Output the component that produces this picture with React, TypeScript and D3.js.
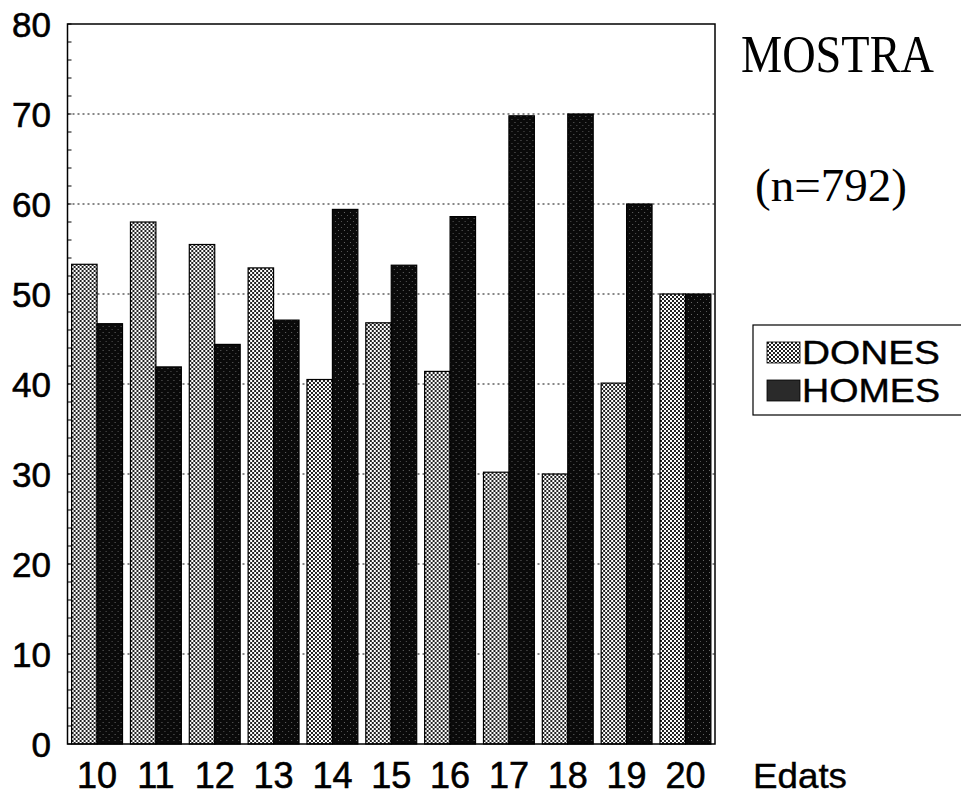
import { useEffect, useRef } from 'react';
import * as d3 from 'd3';

// ages (categories)
const ages = ['10', '11', '12', '13', '14', '15', '16', '17', '18', '19', '20'];
// percentages per series
const dones = [53.3, 58.0, 55.5, 52.9, 40.5, 46.8, 41.4, 30.2, 30.0, 40.1, 50.0];
const homes = [46.7, 41.9, 44.4, 47.1, 59.4, 53.2, 58.6, 69.8, 70.0, 60.0, 50.0];
const yTicks = [0, 10, 20, 30, 40, 50, 60, 70, 80];
const seriesNames = ['DONES', 'HOMES'];

const W = 961;
const H = 799;

export default function App() {
  const svgRef = useRef<SVGSVGElement>(null);

  useEffect(() => {
    document.body.style.margin = '0';
    if (!svgRef.current) return;
    const svg = d3.select(svgRef.current);
    svg.selectAll('*').remove();

    const left = 67.5;
    const right = 715;
    const top = 24;
    const bottom = 744;

    const x0 = d3.scaleBand<string>()
      .domain(ages)
      .range([left, right])
      .paddingInner(0.135)
      .paddingOuter(0.07);

    const x1 = d3.scaleBand<string>()
      .domain(seriesNames)
      .range([0, x0.bandwidth()])
      .padding(0);

    const y = d3.scaleLinear().domain([0, 80]).range([bottom, top]);

    // stipple pattern for DONES
    const defs = svg.append('defs');
    const pat = defs.append('pattern')
      .attr('id', 'dots')
      .attr('patternUnits', 'userSpaceOnUse')
      .attr('width', 4)
      .attr('height', 4);
    pat.append('rect').attr('width', 4).attr('height', 4).attr('fill', '#fff');
    pat.append('rect').attr('x', 0).attr('y', 0).attr('width', 2).attr('height', 2).attr('fill', '#222');
    pat.append('rect').attr('x', 2).attr('y', 2).attr('width', 2).attr('height', 2).attr('fill', '#222');

    const pat2 = defs.append('pattern')
      .attr('id', 'dark')
      .attr('patternUnits', 'userSpaceOnUse')
      .attr('width', 6)
      .attr('height', 6);
    pat2.append('rect').attr('width', 6).attr('height', 6).attr('fill', '#0a0a0a');
    pat2.append('rect').attr('x', 1).attr('y', 2).attr('width', 1).attr('height', 1).attr('fill', '#666');
    pat2.append('rect').attr('x', 4).attr('y', 5).attr('width', 1).attr('height', 1).attr('fill', '#555');

    const fills: Record<string, string> = { DONES: 'url(#dots)', HOMES: 'url(#dark)' };

    // dotted gridlines
    svg.append('g')
      .selectAll('line')
      .data(yTicks.filter(t => t > 0 && t < 80))
      .enter().append('line')
      .attr('x1', left)
      .attr('x2', right)
      .attr('y1', d => y(d))
      .attr('y2', d => y(d))
      .attr('stroke', '#111')
      .attr('stroke-width', 1.2)
      .attr('stroke-dasharray', '2,3');

    // bars
    const groups = svg.append('g')
      .selectAll('g')
      .data(ages)
      .enter().append('g')
      .attr('transform', d => `translate(${x0(d)},0)`);

    groups.selectAll('rect')
      .data((d, i) => [
        { key: 'DONES', value: dones[i] },
        { key: 'HOMES', value: homes[i] },
      ])
      .enter().append('rect')
      .attr('x', d => x1(d.key) || 0)
      .attr('y', d => y(d.value))
      .attr('width', x1.bandwidth())
      .attr('height', d => bottom - y(d.value))
      .attr('fill', d => fills[d.key])
      .attr('stroke', '#000')
      .attr('stroke-width', 1.2);

    // minor ticks on the y axis
    svg.append('g')
      .selectAll('line')
      .data(d3.range(0, 81, 2))
      .enter().append('line')
      .attr('x1', left)
      .attr('x2', left + 4)
      .attr('y1', d => y(d))
      .attr('y2', d => y(d))
      .attr('stroke', '#000')
      .attr('stroke-width', 1);

    // frame
    svg.append('rect')
      .attr('x', left)
      .attr('y', top)
      .attr('width', right - left)
      .attr('height', bottom - top)
      .attr('fill', 'none')
      .attr('stroke', '#000')
      .attr('stroke-width', 1.5);

    const sans = '"Liberation Sans", Arial, sans-serif';
    const serif = '"Liberation Serif", "Times New Roman", serif';

    // y labels
    svg.append('g')
      .selectAll('text')
      .data(yTicks)
      .enter().append('text')
      .attr('x', 51)
      .attr('y', d => y(d))
      .attr('dy', '0.36em')
      .attr('text-anchor', 'end')
      .style('font-family', sans)
      .style('font-size', '35px')
      .attr('fill', '#000')
      .attr('stroke', '#000')
      .attr('stroke-width', 0.6)
      .text(d => d);

    // x labels
    svg.append('g')
      .selectAll('text')
      .data(ages)
      .enter().append('text')
      .attr('x', d => (x0(d) || 0) + x0.bandwidth() / 2)
      .attr('y', 788)
      .attr('text-anchor', 'middle')
      .style('font-family', sans)
      .style('font-size', '36px')
      .attr('fill', '#000')
      .attr('stroke', '#000')
      .attr('stroke-width', 0.6)
      .text(d => d);

    svg.append('text')
      .attr('x', 753)
      .attr('y', 788)
      .attr('textLength', 94)
      .attr('lengthAdjust', 'spacingAndGlyphs')
      .style('font-family', sans)
      .style('font-size', '35px')
      .attr('stroke', '#000')
      .attr('stroke-width', 0.4)
      .text('Edats');

    // titles
    svg.append('text')
      .attr('x', 741)
      .attr('y', 72)
      .attr('textLength', 193)
      .attr('lengthAdjust', 'spacingAndGlyphs')
      .style('font-family', serif)
      .style('font-size', '52px')
      .text('MOSTRA');

    svg.append('text')
      .attr('x', 755)
      .attr('y', 201)
      .attr('textLength', 152)
      .attr('lengthAdjust', 'spacingAndGlyphs')
      .style('font-family', serif)
      .style('font-size', '46px')
      .text('(n=792)');

    // legend
    const legend = svg.append('g');
    legend.append('rect')
      .attr('x', 753)
      .attr('y', 325)
      .attr('width', 230)
      .attr('height', 90)
      .attr('fill', '#fff')
      .attr('stroke', '#000')
      .attr('stroke-width', 1.2);

    const items = legend.selectAll('.item')
      .data(seriesNames)
      .enter().append('g')
      .attr('class', 'item')
      .attr('transform', (d, i) => `translate(767, ${342 + i * 38})`);

    items.append('rect')
      .attr('width', 33)
      .attr('height', 21)
      .attr('fill', d => (d === 'HOMES' ? '#2a2a2a' : fills[d]))
      .attr('stroke', '#000')
      .attr('stroke-width', 0.8);

    items.append('text')
      .attr('x', 35)
      .attr('y', 22)
      .attr('textLength', 138)
      .attr('lengthAdjust', 'spacingAndGlyphs')
      .style('font-family', sans)
      .style('font-size', '33px')
      .attr('stroke', '#000')
      .attr('stroke-width', 0.4)
      .text(d => d);
  }, []);

  return (
    <div style={{ width: W, height: H, background: '#fff' }}>
      <svg ref={svgRef} width={W} height={H} style={{ display: 'block' }} />
    </div>
  );
}
